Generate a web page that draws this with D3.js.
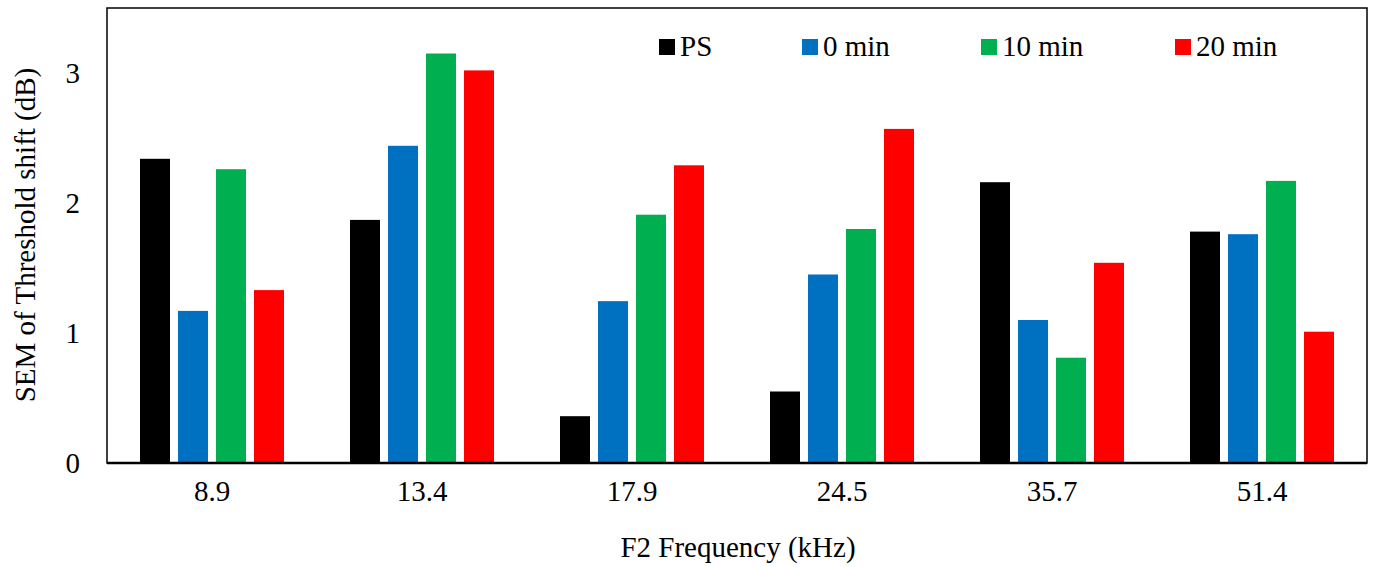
<!DOCTYPE html>
<html><head><meta charset="utf-8">
<script src="https://cdn.jsdelivr.net/npm/d3@7"></script>
<style>body{margin:0;background:#fff}svg{display:block}</style>
</head><body>
<svg id="c" width="1373" height="567"></svg>
<script>
const categories = ["8.9","13.4","17.9","24.5","35.7","51.4"];
const seriesNames = ["PS","0 min","10 min","20 min"];
const seriesColors = ["#000000","#0070C0","#00B050","#FF0000"];
const PS = [2.34,1.87,0.36,0.55,2.16,1.78];
const min0 = [1.17,2.44,1.245,1.45,1.10,1.76];
const min10 = [2.26,3.15,1.91,1.80,0.81,2.17];
const min20 = [1.33,3.02,2.29,2.57,1.54,1.01];
const yTicks = [0,1,2,3];
const seriesValues = [PS,min0,min10,min20];

const FONT = "'Liberation Serif', 'Times New Roman', serif";
const FS = "29px";
const svg = d3.select("#c");
const m = {l:107,t:8,r:1367,b:463};
const x = d3.scaleBand().domain(categories).range([m.l,m.r]).paddingInner(0).paddingOuter(0);
const y = d3.scaleLinear().domain([0,3.5]).range([m.b,m.t]);
const groupW = 144;
const x1 = d3.scaleBand().domain(seriesNames).range([0,groupW]).paddingInner(8/38);

const g = svg.append("g");
seriesNames.forEach((s,si)=>{
  g.selectAll(null).data(categories).enter().append("rect")
    .attr("x",(c)=>x(c)+(x.bandwidth()-groupW)/2 + x1(s))
    .attr("width",x1.bandwidth())
    .attr("y",(c,i)=>y(seriesValues[si][i]))
    .attr("height",(c,i)=>y(0)-y(seriesValues[si][i]))
    .attr("fill",seriesColors[si]);
});

// frame
svg.append("rect").attr("x",m.l).attr("y",m.t).attr("width",m.r-m.l).attr("height",m.b-m.t)
  .attr("fill","none").attr("stroke","#000").attr("stroke-width",1.5);
svg.append("line").attr("x1",m.l).attr("x2",m.r).attr("y1",m.b).attr("y2",m.b).attr("stroke","#000").attr("stroke-width",2.5);

// y axis
const ya = svg.append("g").attr("transform",`translate(${m.l},0)`)
  .call(d3.axisLeft(y).tickValues(yTicks).tickSize(0).tickPadding(27).tickFormat(d3.format("d")));
ya.select(".domain").remove();
ya.selectAll("text").style("font-size",FS).style("font-family",FONT).attr("fill","#000");

// x axis
const xa = svg.append("g").attr("transform",`translate(0,${m.b})`)
  .call(d3.axisBottom(x).tickSize(0).tickPadding(17));
xa.select(".domain").remove();
xa.selectAll("text").style("font-size",FS).style("font-family",FONT).attr("fill","#000");

// titles
svg.append("text").attr("x",738).attr("y",557).attr("text-anchor","middle")
  .style("font-size",FS).style("font-family",FONT).text("F2 Frequency (kHz)");
svg.append("text").attr("transform","translate(35,235) rotate(-90)").attr("text-anchor","middle")
  .style("font-size",FS).style("font-family",FONT).text("SEM of Threshold shift (dB)");

// legend
const legX = [659,802,981,1175];
const leg = svg.append("g");
seriesNames.forEach((s,i)=>{
  leg.append("rect").attr("x",legX[i]).attr("y",39).attr("width",16).attr("height",16).attr("fill",seriesColors[i]);
  leg.append("text").attr("x",legX[i]+21).attr("y",56).style("font-size",FS).style("font-family",FONT).text(s);
});
</script>
</body></html>
